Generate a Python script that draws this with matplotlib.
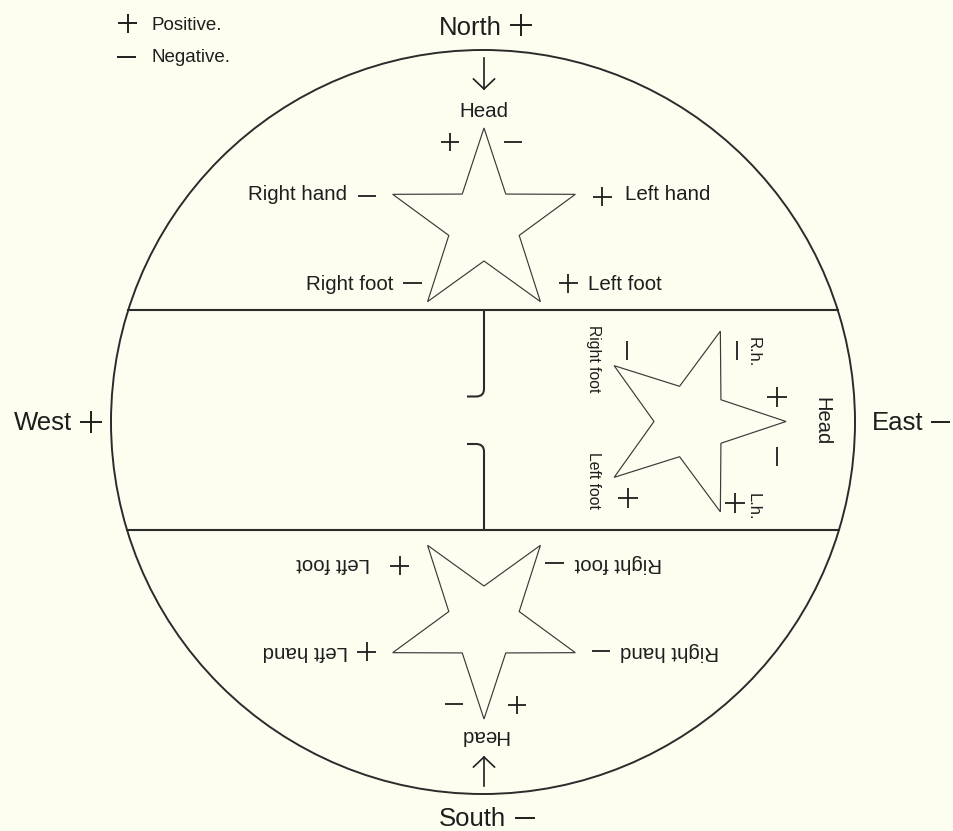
import numpy as np
import matplotlib
matplotlib.use("Agg")
import matplotlib.pyplot as plt
from matplotlib.patches import Circle, Polygon, PathPatch
from matplotlib.path import Path

plt.rcParams['font.family'] = ['Liberation Sans', 'DejaVu Sans']

# ---- content ----
compass = ["North", "South", "West", "East"]
compass_signs = ["+", "-", "+", "-"]
legend_signs = ["+", "-"]
legend_labels = ["Positive.", "Negative."]
top_labels = ["Head", "Right hand", "Left hand", "Right foot", "Left foot"]
top_signs = ["+", "-", "-", "+", "-", "+"]
bottom_labels = ["Head", "Left hand", "Right hand", "Left foot", "Right foot"]
bottom_signs = ["-", "+", "+", "-", "+", "-"]
east_labels = ["Head", "R.h.", "L.h.", "Right foot", "Left foot"]
east_signs = ["+", "-", "-", "+", "-", "+"]

BG = '#fdfef0'
LC = '#2b2b2b'
TC = '#1e1e1e'

fig = plt.figure(figsize=(9.54, 8.31), dpi=100)
fig.patch.set_facecolor(BG)
ax = fig.add_axes([0, 0, 1, 1])
ax.set_xlim(0, 954)
ax.set_ylim(831, 0)
ax.axis('off')
ax.set_facecolor(BG)


def sign(x, y, s, size=19, lw=1.3, vertical=False, color=TC):
    h = size / 2.0
    if s == '+':
        ax.plot([x - h, x + h], [y, y], color=color, lw=lw, solid_capstyle='butt')
        ax.plot([x, x], [y - h, y + h], color=color, lw=lw, solid_capstyle='butt')
    else:
        if vertical:
            ax.plot([x, x], [y - h, y + h], color=color, lw=lw, solid_capstyle='butt')
        else:
            ax.plot([x - h, x + h], [y, y], color=color, lw=lw, solid_capstyle='butt')


def star(cx, cy, R, r, angle_deg):
    pts = []
    for k in range(10):
        a = np.deg2rad(angle_deg + k * 36)
        rad = R if k % 2 == 0 else r
        pts.append((cx + rad * np.cos(a), cy + rad * np.sin(a)))
    ax.add_patch(Polygon(pts, closed=True, facecolor=BG, edgecolor='#3a3a3a', lw=0.85))


def arrow(x, y0, y1):
    ax.plot([x, x], [y0, y1], color=TC, lw=1.2)
    d = 1 if y1 > y0 else -1
    ax.plot([x - 10.5, x, x + 10.5], [y1 - d * 10, y1, y1 - d * 10], color=TC, lw=1.2)


# ---- circle and partitions ----
CX, CY, RAD = 483, 422, 372
ax.add_patch(Circle((CX, CY), RAD, fill=False, edgecolor=LC, lw=1.4))
for yy in (310, 530):
    dx = np.sqrt(RAD ** 2 - (yy - CY) ** 2)
    ax.plot([CX - dx, CX + dx], [yy, yy], color=LC, lw=1.5)

p1 = Path([(484, 310), (484, 389), (484, 396.5), (476, 396.5), (467, 396.5)],
          [Path.MOVETO, Path.LINETO, Path.CURVE3, Path.CURVE3, Path.LINETO])
p2 = Path([(467, 444), (476, 444), (484, 444), (484, 451.5), (484, 530)],
          [Path.MOVETO, Path.LINETO, Path.CURVE3, Path.CURVE3, Path.LINETO])
for p in (p1, p2):
    ax.add_patch(PathPatch(p, fill=False, edgecolor=LC, lw=1.5))

# ---- stars ----
star(484, 224, 96, 37, -90)
star(484, 623, 96, 37, 90)
star(691, 421.5, 95, 37, 0)

# ---- compass texts ----
FS_C = 18.5
ax.text(502, 35, compass[0], fontsize=FS_C, color=TC, ha='right', va='baseline')
sign(521, 25, compass_signs[0], size=22, lw=1.4)
ax.text(506, 826, compass[1], fontsize=FS_C, color=TC, ha='right', va='baseline')
sign(525, 818, compass_signs[1], size=20, lw=1.4)
ax.text(72, 430, compass[2], fontsize=FS_C, color=TC, ha='right', va='baseline')
sign(91, 422, compass_signs[2], size=22, lw=1.4)
ax.text(871.5, 430, compass[3], fontsize=FS_C, color=TC, ha='left', va='baseline')
sign(941, 422, compass_signs[3], size=19, lw=1.4)

# ---- legend ----
FS_L = 13.5
sign(128, 23, legend_signs[0], size=19, lw=1.4)
ax.text(152, 30, legend_labels[0], fontsize=FS_L, color=TC, ha='left', va='baseline')
sign(127, 57, legend_signs[1], size=19, lw=1.4)
ax.text(152, 62.5, legend_labels[1], fontsize=FS_L, color=TC, ha='left', va='baseline')

arrow(484, 58, 89)
arrow(484, 786, 757)

# ---- top star labels ----
FS = 14.8
ax.text(484, 117, top_labels[0], fontsize=FS, color=TC, ha='center', va='baseline')
ax.text(347, 200.5, top_labels[1], fontsize=FS, color=TC, ha='right', va='baseline')
ax.text(625, 200.5, top_labels[2], fontsize=FS, color=TC, ha='left', va='baseline')
ax.text(393, 289.5, top_labels[3], fontsize=FS, color=TC, ha='right', va='baseline')
ax.text(588, 289.5, top_labels[4], fontsize=FS, color=TC, ha='left', va='baseline')
sign(450, 142, top_signs[0], size=18, lw=1.3)
sign(513, 142, top_signs[1], size=18, lw=1.3)
sign(367.5, 196, top_signs[2], size=18, lw=1.3)
sign(602.5, 196.5, top_signs[3], size=19, lw=1.3)
sign(413, 283, top_signs[4], size=19, lw=1.3)
sign(568.5, 283, top_signs[5], size=19, lw=1.3)

# ---- bottom star labels (upside down) ----
ax.text(484, 735, bottom_labels[0], fontsize=FS, color=TC, ha='center', va='center', rotation=180)
ax.text(348, 652, bottom_labels[1], fontsize=FS, color=TC, ha='right', va='center', rotation=180)
ax.text(620, 652, bottom_labels[2], fontsize=FS, color=TC, ha='left', va='center', rotation=180)
ax.text(370, 564, bottom_labels[3], fontsize=FS, color=TC, ha='right', va='center', rotation=180)
ax.text(575, 564, bottom_labels[4], fontsize=FS, color=TC, ha='left', va='center', rotation=180)
sign(454, 704, bottom_signs[0], size=18, lw=1.3)
sign(517.5, 705, bottom_signs[1], size=18, lw=1.3)
sign(366.7, 651.5, bottom_signs[2], size=19, lw=1.3)
sign(601, 651, bottom_signs[3], size=18, lw=1.3)
sign(400, 565.5, bottom_signs[4], size=19, lw=1.3)
sign(555, 563, bottom_signs[5], size=19, lw=1.3)

# ---- east star labels (rotated) ----
ax.text(821.7, 421, east_labels[0], fontsize=14.5, color=TC, ha='center', va='center', rotation=270)
ax.text(752.7, 351.7, east_labels[1], fontsize=12, color=TC, ha='center', va='center', rotation=270)
ax.text(752.7, 506.7, east_labels[2], fontsize=12, color=TC, ha='center', va='center', rotation=270)
ax.text(593.3, 358.3, east_labels[3], fontsize=11.3, color=TC, ha='center', va='center', rotation=270)
ax.text(593.3, 480, east_labels[4], fontsize=11.3, color=TC, ha='center', va='center', rotation=270)
sign(776.7, 397.3, east_signs[0], size=20, lw=1.3)
sign(736.7, 350, east_signs[1], size=19, lw=1.3, vertical=True)
sign(776.7, 456, east_signs[2], size=19, lw=1.3, vertical=True)
sign(628.3, 498.3, east_signs[3], size=20, lw=1.3)
sign(626.7, 350, east_signs[4], size=19, lw=1.3, vertical=True)
sign(735, 502.7, east_signs[5], size=20, lw=1.3)

fig.savefig('out.png', dpi=100, facecolor=BG)
